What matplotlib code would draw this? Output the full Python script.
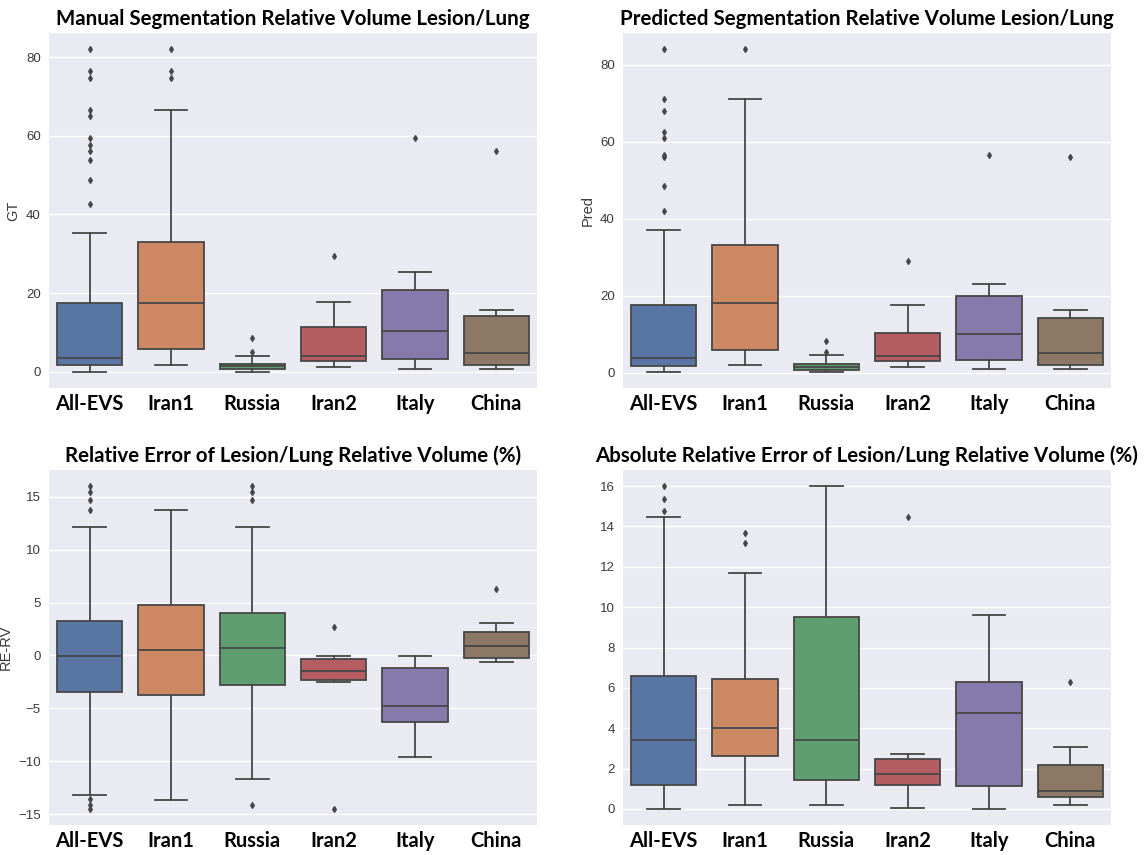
import matplotlib
matplotlib.use("Agg")
import matplotlib.pyplot as plt

sites = ["All-EVS", "Iran1", "Russia", "Iran2", "Italy", "China"]
box_colors = ["#5975a4", "#cc8963", "#5f9e6e", "#b55d60", "#857aab", "#8d7866"]

# manual segmentation relative volume (GT)
gt_lo = [0.0, 1.7, 0.0, 1.35, 0.85, 0.7]
gt_q1 = [1.7, 5.9, 0.7, 2.8, 3.2, 1.8]
gt_med = [3.6, 17.4, 1.5, 4.1, 10.3, 4.9]
gt_q3 = [17.4, 33.1, 2.1, 11.4, 20.9, 14.2]
gt_hi = [35.3, 66.5, 4.1, 17.8, 25.4, 15.7]
gt_fliers = [[82.0, 76.5, 74.6, 66.6, 65.1, 59.5, 57.6, 56.1, 53.8, 48.7, 42.6],
             [82.0, 76.5, 74.6],
             [5.1, 8.7],
             [29.5],
             [59.4],
             [56.1]]

# predicted segmentation relative volume
pr_lo = [0.2, 1.9, 0.2, 1.5, 1.0, 0.9]
pr_q1 = [1.7, 5.9, 0.7, 3.0, 3.4, 2.0]
pr_med = [3.8, 18.0, 1.5, 4.2, 10.0, 5.1]
pr_q3 = [17.6, 33.1, 2.2, 10.3, 19.8, 14.3]
pr_hi = [37.1, 71.1, 4.5, 17.6, 23.1, 16.4]
pr_fliers = [[84.1, 71.1, 67.9, 62.6, 60.9, 56.6, 56.0, 48.4, 42.1],
             [84.1],
             [5.4, 8.2],
             [28.9],
             [56.6],
             [56.0]]

# relative error (%)
re_lo = [-13.2, -13.7, -11.7, -2.5, -9.6, -0.66]
re_q1 = [-3.46, -3.7, -2.83, -2.3, -6.3, -0.28]
re_med = [-0.06, 0.5, 0.66, -1.45, -4.78, 0.91]
re_q3 = [3.3, 4.8, 4.0, -0.35, -1.16, 2.17]
re_hi = [12.1, 13.7, 12.1, -0.06, -0.03, 3.1]
re_fliers = [[16.0, 15.4, 14.7, 13.7, -13.6, -14.1, -14.5],
             [],
             [16.0, 15.4, 14.7, -14.1],
             [2.7, -14.5],
             [],
             [6.25]]

# absolute relative error (%)
are_lo = [0.0, 0.21, 0.21, 0.02, 0.0, 0.18]
are_q1 = [1.17, 2.61, 1.44, 1.2, 1.14, 0.59]
are_med = [3.42, 4.01, 3.42, 1.73, 4.74, 0.91]
are_q3 = [6.58, 6.42, 9.52, 2.48, 6.27, 2.16]
are_hi = [14.49, 11.7, 15.99, 2.74, 9.59, 3.09]
are_fliers = [[16.0, 15.38, 14.78],
              [13.68, 13.2],
              [],
              [14.47],
              [],
              [6.27]]

plt.rcParams["font.family"] = ["Liberation Sans", "DejaVu Sans"]
line_gray = "#474747"
bold_font = ["Lato", "DejaVu Sans"]


def box_stats(lo, q1, med, q3, hi, fliers):
    return [dict(whislo=lo[i], q1=q1[i], med=med[i], q3=q3[i], whishi=hi[i],
                 fliers=fliers[i], label=sites[i]) for i in range(len(sites))]


def draw(ax, stats, title, ylabel, yticks):
    ax.set_facecolor("#eaeaf2")
    line = dict(color=line_gray, linewidth=1.3)
    parts = ax.bxp(stats, positions=range(len(sites)), widths=0.8, patch_artist=True,
                   boxprops=dict(edgecolor=line_gray, linewidth=1.3),
                   whiskerprops=line, capprops=line, medianprops=line,
                   flierprops=dict(marker="d", markersize=3, markerfacecolor=line_gray,
                                   markeredgecolor=line_gray, linestyle="none"))
    for patch, c in zip(parts["boxes"], box_colors):
        patch.set_facecolor(c)
    ax.set_xlim(-0.5, len(sites) - 0.5)
    ax.margins(y=0.05)
    ax.set_yticks(yticks)
    ax.yaxis.grid(True, color="white", linewidth=1.0)
    ax.xaxis.grid(False)
    ax.set_axisbelow(True)
    for s in ax.spines.values():
        s.set_visible(False)
    ax.tick_params(length=0)
    ax.tick_params(axis="y", labelsize=9.5, labelcolor="#3a3a3a", pad=6)
    ax.set_xticks(range(len(sites)))
    ax.set_xticklabels(sites, fontfamily=bold_font, fontweight="bold",
                       fontsize=14.5, color="black")
    ax.tick_params(axis="x", pad=4)
    ax.set_ylabel(ylabel, fontsize=10.5, color="#3a3a3a", labelpad=4)
    ax.set_title(title, fontfamily=bold_font, fontweight="bold", fontsize=14.8, pad=6)


fig = plt.figure(figsize=(11.48, 8.55), dpi=100)
W, H = 1148, 855


def rect(left, top, right, bottom):
    return [left / W, 1 - bottom / H, (right - left) / W, (bottom - top) / H]


ax1 = fig.add_axes(rect(49, 33, 537, 388))
ax2 = fig.add_axes(rect(623, 33, 1111, 388))
ax3 = fig.add_axes(rect(49, 470, 537, 825))
ax4 = fig.add_axes(rect(623, 470, 1111, 825))

draw(ax1, box_stats(gt_lo, gt_q1, gt_med, gt_q3, gt_hi, gt_fliers),
     "Manual Segmentation Relative Volume Lesion/Lung", "GT", [0, 20, 40, 60, 80])
draw(ax2, box_stats(pr_lo, pr_q1, pr_med, pr_q3, pr_hi, pr_fliers),
     "Predicted Segmentation Relative Volume Lesion/Lung", "Pred", [0, 20, 40, 60, 80])
draw(ax3, box_stats(re_lo, re_q1, re_med, re_q3, re_hi, re_fliers),
     "Relative Error of Lesion/Lung Relative Volume (%)", "RE-RV", [-15, -10, -5, 0, 5, 10, 15])
draw(ax4, box_stats(are_lo, are_q1, are_med, are_q3, are_hi, are_fliers),
     "Absolute Relative Error of Lesion/Lung Relative Volume (%)", "", list(range(0, 17, 2)))

fig.savefig("out.png", dpi=100)
